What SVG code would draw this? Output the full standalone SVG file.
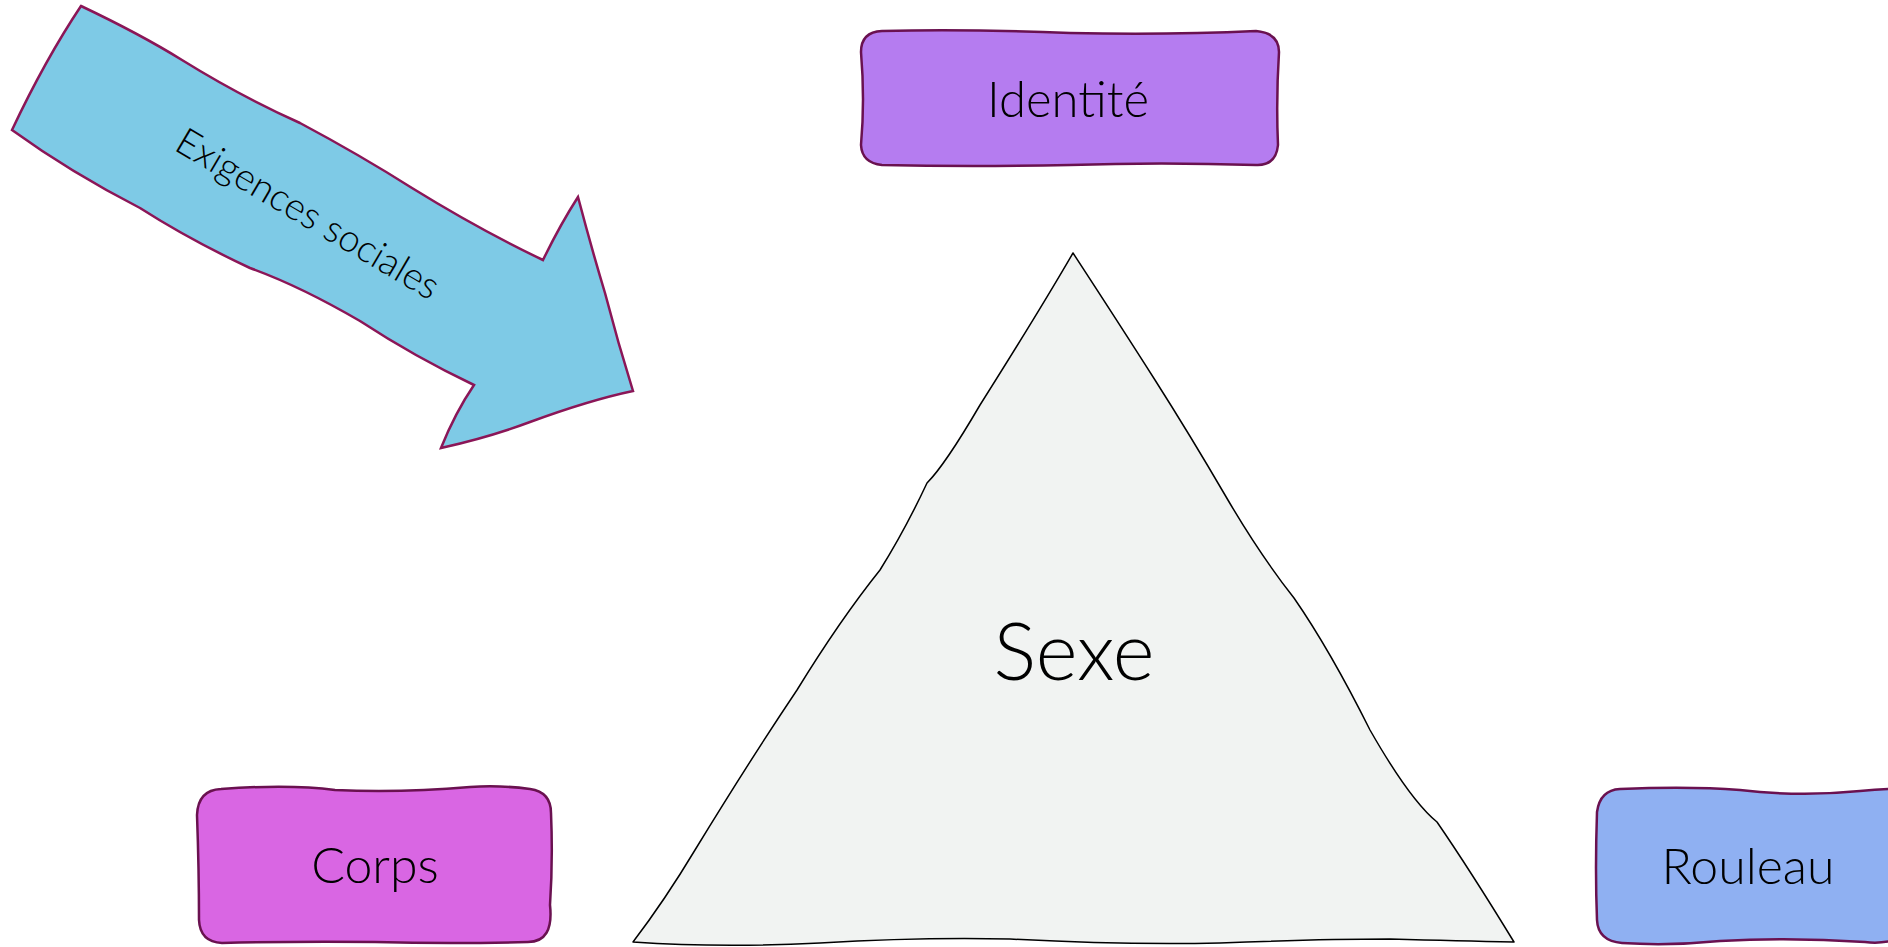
<svg xmlns="http://www.w3.org/2000/svg" width="1888" height="947" viewBox="0 0 1888 947">
<style>
.box{stroke:#6a1150;stroke-width:2.5;stroke-linejoin:round}
.lbl{font-family:Lato,"Open Sans","Liberation Sans",sans-serif;font-weight:300;fill:#000;text-anchor:middle}
</style>
<rect width="1888" height="947" fill="#ffffff"/>
<g id="arrow">
<path d="M 81 6 Q 140 34 182 60 Q 240 96 300 123 Q 360 155 412 188 Q 480 230 543 260 Q 560 225 578 197 Q 592 250 605 293 Q 618 343 633 391 Q 590 400 530 422 Q 490 437 441 448 Q 455 413 474 385 Q 415 357 360 321 Q 300 286 250 268 Q 190 240 140 208 Q 70 172 12 130 Q 45 60 81 6 Z" fill="#7ecae6" stroke="#8b1657" stroke-width="2.5" stroke-linejoin="miter"/>
<text class="lbl" x="309" y="212" font-size="38" dominant-baseline="central" transform="rotate(30.5 309 212)">Exigences sociales</text>
</g>
<g id="identite">
<path class="box" fill="#b57cf0" d="M 882 31 Q 970 29 1070 33 Q 1170 35 1256 31 Q 1279 33 1279 52 Q 1276 100 1278 145 Q 1276 166 1256 165 Q 1160 162 1070 165 Q 970 167 882 165 Q 862 163 861 145 Q 865 100 861 52 Q 861 32 882 31 Z"/>
<text class="lbl" x="1068" y="117" font-size="49">Identité</text>
</g>
<g id="sexe">
<path d="M 1073 253 Q 1120 325 1155 380 Q 1190 435 1225 495 Q 1260 555 1294 598 Q 1330 650 1370 730 Q 1410 800 1437 822 Q 1470 870 1514 942 Q 1460 941 1390 939 Q 1320 939 1220 943 Q 1120 945 1010 939 Q 920 937 820 943 Q 720 948 633 942 Q 665 900 695 850 Q 750 760 797 690 Q 840 620 880 570 Q 905 530 927 483 Q 945 465 980 405 Q 1040 310 1073 253 Z" fill="#f1f3f2" stroke="#000" stroke-width="1.5" stroke-linejoin="round"/>
<text class="lbl" x="1074" y="680" font-size="80" font-weight="400">Sexe</text>
</g>
<g id="corps">
<path class="box" fill="#d966e3" d="M 221 789 Q 290 784 335 790 Q 400 793 470 787 Q 500 785 530 789 Q 551 792 551 813 Q 553 860 550 905 Q 554 942 528 942 Q 450 944 375 942 Q 300 941 222 943 Q 200 942 199 920 Q 199 870 197 815 Q 198 790 221 789 Z"/>
<text class="lbl" x="375" y="883" font-size="50">Corps</text>
</g>
<g id="rouleau">
<path class="box" fill="#8fb0f2" d="M 1620 789 Q 1690 786 1740 790 Q 1800 797 1860 791 Q 1880 789 1895 789 L 1895 940 Q 1880 944 1865 942 Q 1790 937 1720 941 Q 1670 946 1622 943 Q 1598 941 1597 920 Q 1595 870 1597 812 Q 1600 790 1620 789 Z"/>
<text class="lbl" x="1748" y="884" font-size="50">Rouleau</text>
</g>
<g id="connectors"></g>
</svg>
